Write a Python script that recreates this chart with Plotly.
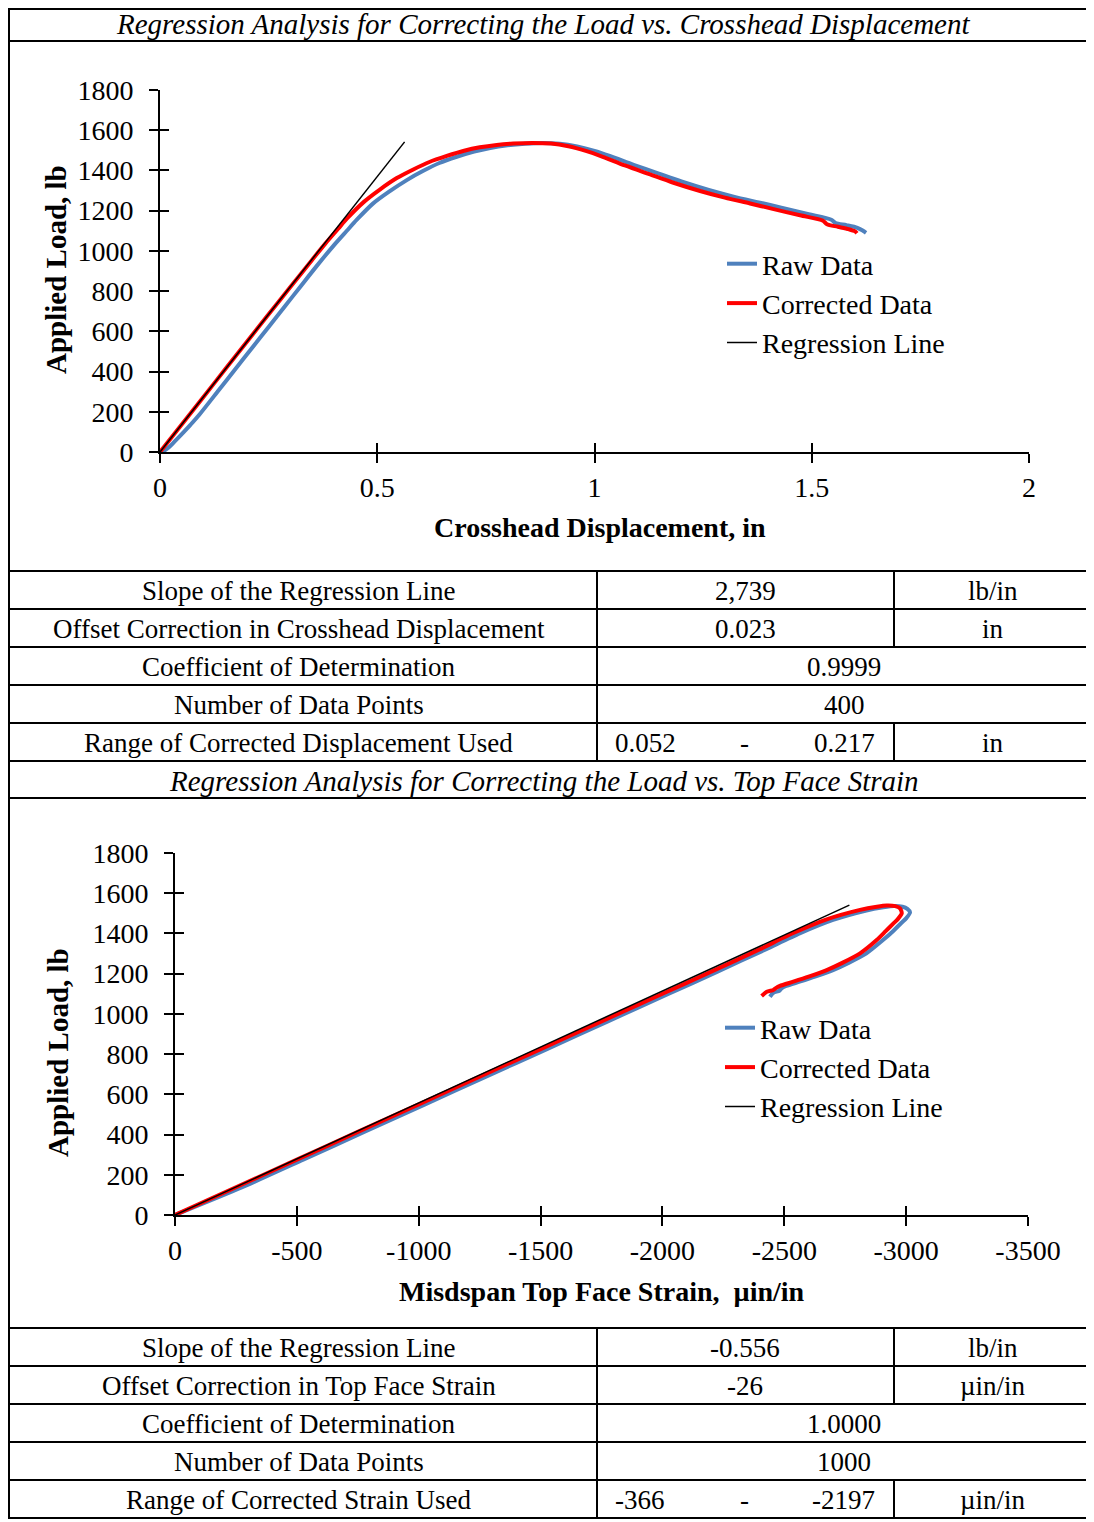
import plotly.graph_objects as go

# ---------------- data ----------------
# Chart 1: Load vs crosshead displacement
raw1_x = [0.005, 0.02, 0.035, 0.055, 0.07, 0.09, 0.135, 0.17, 0.214, 0.25, 0.288, 0.323, 0.36,
          0.403, 0.43, 0.453, 0.49, 0.529, 0.568, 0.606, 0.643, 0.683, 0.723, 0.76, 0.80, 0.84,
          0.88, 0.92, 0.96, 1.0, 1.035, 1.09, 1.148, 1.20, 1.263, 1.32, 1.378, 1.43, 1.493,
          1.545, 1.555, 1.58, 1.605, 1.618, 1.625]
raw1_y = [0, 22, 55, 100, 135, 184, 307, 403, 523, 622, 726, 822, 923,
          1035, 1100, 1155, 1235, 1297, 1352, 1398, 1437, 1468, 1494, 1512, 1525, 1533,
          1537, 1533, 1519, 1497, 1472, 1428, 1384, 1345, 1303, 1270, 1241, 1215, 1183,
          1155, 1138, 1128, 1115, 1100, 1090]
cor1_x = [0, 0.05, 0.10, 0.15, 0.20, 0.25, 0.30, 0.35, 0.38, 0.41, 0.43, 0.47, 0.506, 0.545,
          0.583, 0.62, 0.66, 0.70, 0.736, 0.775, 0.813, 0.858, 0.90, 0.94, 0.98, 1.013, 1.07,
          1.128, 1.18, 1.243, 1.30, 1.358, 1.41, 1.473, 1.526, 1.535, 1.56, 1.585, 1.60, 1.604]
cor1_y = [0, 137, 274, 411, 548, 685, 820, 955, 1035, 1110, 1160, 1245, 1305, 1362,
          1405, 1442, 1472, 1498, 1515, 1527, 1534, 1537, 1534, 1520, 1497, 1473, 1425,
          1380, 1340, 1298, 1265, 1236, 1209, 1177, 1150, 1132, 1120, 1108, 1097, 1088]
reg1_x = [0, 0.563]
reg1_y = [0, 1542]

# Chart 2: Load vs top face strain
raw2_x = [0, -276, -526, -776, -1026, -1276, -1526, -1776, -2026, -2226, -2426, -2563, -2700,
          -2837, -2906, -2950, -2985, -3005, -3016, -3000, -2980, -2945, -2905, -2837, -2766,
          -2700, -2626, -2563, -2508, -2490, -2480, -2455, -2441]
raw2_y = [0, 138, 275, 413, 550, 688, 825, 963, 1100, 1210, 1322, 1400, 1467,
          1514, 1530, 1537, 1533, 1522, 1505, 1475, 1452, 1410, 1367, 1301, 1255,
          1218, 1185, 1160, 1139, 1128, 1115, 1105, 1085]
cor2_x = [0, -250, -500, -750, -1000, -1250, -1500, -1750, -2000, -2200, -2400, -2537, -2674,
          -2811, -2880, -2920, -2955, -2975, -2982, -2965, -2948, -2915, -2879, -2811, -2740,
          -2674, -2600, -2537, -2482, -2465, -2455, -2428, -2407]
cor2_y = [0, 138, 275, 413, 550, 688, 825, 963, 1100, 1210, 1322, 1402, 1470,
          1517, 1533, 1539, 1536, 1525, 1500, 1470, 1450, 1410, 1367, 1301, 1255,
          1218, 1185, 1160, 1139, 1128, 1119, 1110, 1089]
reg2_x = [0, -2767]
reg2_y = [0, 1541]

y_ticks = [0, 200, 400, 600, 800, 1000, 1200, 1400, 1600, 1800]
x1_ticks = [0, 0.5, 1, 1.5, 2]
x1_labels = ["0", "0.5", "1", "1.5", "2"]
x2_ticks = [0, -500, -1000, -1500, -2000, -2500, -3000, -3500]
x2_labels = ["0", "-500", "-1000", "-1500", "-2000", "-2500", "-3000", "-3500"]

title1 = "Regression Analysis for Correcting the Load vs. Crosshead Displacement"
title2 = "Regression Analysis for Correcting the Load vs. Top Face Strain"
xtitle1 = "Crosshead Displacement, in"
xtitle2 = "Misdspan Top Face Strain,  µin/in"
ytitle = "Applied Load, lb"

tab1_labels = ["Slope of the Regression Line", "Offset Correction in Crosshead Displacement",
               "Coefficient of Determination", "Number of Data Points",
               "Range of Corrected Displacement Used"]
tab1_values = ["2,739", "0.023", "0.9999", "400", ("0.052", "-", "0.217")]
tab1_units = ["lb/in", "in", None, None, "in"]

tab2_labels = ["Slope of the Regression Line", "Offset Correction in Top Face Strain",
               "Coefficient of Determination", "Number of Data Points",
               "Range of Corrected Strain Used"]
tab2_values = ["-0.556", "-26", "1.0000", "1000", ("-366", "-", "-2197")]
tab2_units = ["lb/in", "µin/in", None, None, "µin/in"]

# ---------------- layout helpers ----------------
W, H = 1094, 1522
OFF = 8  # page body margin: screen position = figure position + 8
FONT = "Liberation Serif, Times New Roman, serif"
BLUE = "#4F81BD"
RED = "#FF0000"


def px(x):
    return (x - OFF) / W


def py(y):
    return 1 - (y - OFF) / H


fig = go.Figure()

# chart 1 traces
fig.add_trace(go.Scatter(x=raw1_x, y=raw1_y, mode="lines", name="Raw Data",
                         line=dict(color=BLUE, width=4, shape="spline", smoothing=0.8),
                         xaxis="x", yaxis="y", legend="legend"))
fig.add_trace(go.Scatter(x=cor1_x, y=cor1_y, mode="lines", name="Corrected Data",
                         line=dict(color=RED, width=4, shape="spline", smoothing=0.8),
                         xaxis="x", yaxis="y", legend="legend"))
fig.add_trace(go.Scatter(x=reg1_x, y=reg1_y, mode="lines", name="Regression Line",
                         line=dict(color="black", width=1.5), xaxis="x", yaxis="y",
                         legend="legend"))
# chart 2 traces
fig.add_trace(go.Scatter(x=raw2_x, y=raw2_y, mode="lines", name="Raw Data",
                         line=dict(color=BLUE, width=4, shape="spline", smoothing=0.6),
                         xaxis="x2", yaxis="y2", legend="legend2"))
fig.add_trace(go.Scatter(x=cor2_x, y=cor2_y, mode="lines", name="Corrected Data",
                         line=dict(color=RED, width=4, shape="spline", smoothing=0.6),
                         xaxis="x2", yaxis="y2", legend="legend2"))
fig.add_trace(go.Scatter(x=reg2_x, y=reg2_y, mode="lines", name="Regression Line",
                         line=dict(color="black", width=1.5), xaxis="x2", yaxis="y2",
                         legend="legend2"))
# invisible traces to host the inside-tick overlay axes (gives "cross" ticks)
fig.add_trace(go.Scatter(x=[None], y=[None], xaxis="x3", yaxis="y3", showlegend=False,
                         hoverinfo="skip"))
fig.add_trace(go.Scatter(x=[None], y=[None], xaxis="x4", yaxis="y4", showlegend=False,
                         hoverinfo="skip"))

dom_x1 = [px(160), px(1029)]
dom_y1 = [py(452), py(90)]
dom_x2 = [px(175), px(1028)]
dom_y2 = [py(1215), py(853)]

tickfont = dict(family=FONT, size=28, color="black")
axis_common = dict(showgrid=False, zeroline=False, showline=True, linecolor="black", linewidth=2,
                   ticks="outside", ticklen=9, tickwidth=2, tickcolor="black", tickfont=tickfont)
inside_common = dict(showgrid=False, zeroline=False, showline=False, ticks="inside", ticklen=9,
                     tickwidth=2, tickcolor="black", showticklabels=False)
legfont = dict(family=FONT, size=28, color="black")

fig.update_layout(
    width=W, height=H, margin=dict(l=0, r=0, t=0, b=0, pad=0, autoexpand=False),
    paper_bgcolor="white", plot_bgcolor="rgba(0,0,0,0)",
    font=dict(family=FONT, size=27, color="black"),
    xaxis=dict(domain=dom_x1, range=[0, 2], tickvals=x1_ticks, ticktext=x1_labels, anchor="y",
               ticklabelstandoff=0, **axis_common),
    yaxis=dict(domain=dom_y1, range=[0, 1800], tickvals=y_ticks, anchor="x",
               ticklabelstandoff=10, **axis_common),
    xaxis2=dict(domain=dom_x2, range=[0, -3500], tickvals=x2_ticks, ticktext=x2_labels,
                anchor="y2", ticklabelstandoff=0, **axis_common),
    yaxis2=dict(domain=dom_y2, range=[0, 1800], tickvals=y_ticks, anchor="x2",
                ticklabelstandoff=10, **axis_common),
    xaxis3=dict(domain=dom_x1, range=[0, 2], tickvals=x1_ticks, anchor="y3", overlaying="x",
                **inside_common),
    yaxis3=dict(domain=dom_y1, range=[0, 1800], tickvals=y_ticks, anchor="x3", overlaying="y",
                **inside_common),
    xaxis4=dict(domain=dom_x2, range=[0, -3500], tickvals=x2_ticks, anchor="y4", overlaying="x2",
                **inside_common),
    yaxis4=dict(domain=dom_y2, range=[0, 1800], tickvals=y_ticks, anchor="x4", overlaying="y2",
                **inside_common),
    legend=dict(x=px(722), y=py(239), xanchor="left", yanchor="top", bgcolor="rgba(0,0,0,0)",
                font=legfont, tracegroupgap=0, itemwidth=30),
    legend2=dict(x=px(720), y=py(1003), xanchor="left", yanchor="top", bgcolor="rgba(0,0,0,0)",
                 font=legfont, tracegroupgap=0, itemwidth=30),
)

shapes = []
annotations = []


def hline(y, x0=OFF, x1=1092, w=2):
    shapes.append(dict(type="line", xref="paper", yref="paper", x0=px(x0), x1=px(x1),
                       y0=py(y), y1=py(y), line=dict(color="black", width=w)))


def vline(x, y0, y1, w=2):
    shapes.append(dict(type="line", xref="paper", yref="paper", x0=px(x), x1=px(x),
                       y0=py(y0), y1=py(y1), line=dict(color="black", width=w)))


def text(x, y, s, italic=False, bold=False, xanchor="center", angle=0, size=27):
    if bold:
        s = "<b>" + s + "</b>"
    if italic:
        s = "<i>" + s + "</i>"
    annotations.append(dict(x=px(x), y=py(y), xref="paper", yref="paper", text=s,
                            showarrow=False, xanchor=xanchor, yanchor="middle", textangle=angle,
                            font=dict(family=FONT, size=size, color="black")))


# outer border (left/top drawn at the page's first visible pixels)
hline(OFF + 1)
hline(1518)
vline(OFF + 1, OFF, 1518)
vline(1092, OFF, 1518)
# title rows
hline(41)
hline(761)
hline(798)
text(543, 24, title1, italic=True, size=29)
text(544, 781, title2, italic=True, size=29)

# axis titles
text(600, 527, xtitle1, bold=True, size=28)
text(602, 1291, xtitle2, bold=True, size=28)
text(56, 270, ytitle, bold=True, angle=-90, size=29)
text(58, 1053, ytitle, bold=True, angle=-90, size=29)


def table(top, labels, values, units):
    rh = 38
    hline(top)
    for i in range(5):
        y0 = top + i * rh
        y1 = y0 + rh
        hline(y1)
        yc = (y0 + y1) / 2 + 1
        vline(597, y0, y1)
        text(299, yc, labels[i])
        v = values[i]
        if units[i] is None:
            text(844, yc, v)
        else:
            vline(894, y0, y1)
            text(993, yc, units[i])
            if isinstance(v, tuple):
                text(613, yc, v[0], xanchor="left")
                text(744, yc, v[1])
                text(877, yc, v[2], xanchor="right")
            else:
                text(745, yc, v)


table(571, tab1_labels, tab1_values, tab1_units)
table(1328, tab2_labels, tab2_values, tab2_units)

fig.update_layout(shapes=shapes, annotations=annotations)
fig.write_html("out.html")
